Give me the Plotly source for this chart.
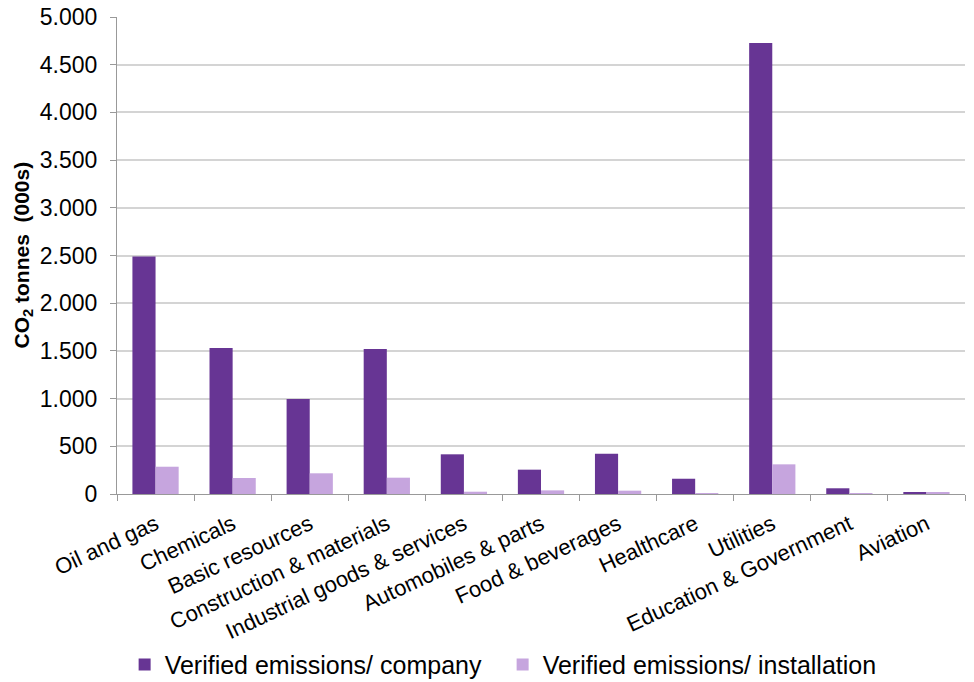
import plotly.graph_objects as go

categories = ["Oil and gas", "Chemicals", "Basic resources", "Construction & materials",
              "Industrial goods & services", "Automobiles & parts", "Food & beverages",
              "Healthcare", "Utilities", "Education & Government", "Aviation"]
company = [2490, 1530, 995, 1520, 416, 255, 422, 160, 4727, 60, 15]
installation = [286, 168, 217, 171, 24, 38, 35, 10, 311, 3, 12]
y_ticks = [0, 500, 1000, 1500, 2000, 2500, 3000, 3500, 4000, 4500, 5000]
y_title = "<b>CO<sub>2</sub> tonnes  (000s)</b>"

fig = go.Figure()
fig.add_trace(go.Bar(x=categories, y=company, name="Verified emissions/ company",
                     marker=dict(color="#673594", line=dict(width=0))))
fig.add_trace(go.Bar(x=categories, y=installation, name="Verified emissions/ installation",
                     marker=dict(color="#C6A5DE", line=dict(width=0))))

fig.add_annotation(text=y_title, xref="paper", yref="paper", x=-0.112, y=0.5,
                   xanchor="center", yanchor="middle", textangle=-90, showarrow=False,
                   font=dict(size=21, color="black"))

fig.update_layout(
    width=974, height=682,
    margin=dict(l=117, r=9, t=17, b=188, autoexpand=False),
    plot_bgcolor="white", paper_bgcolor="white",
    separators=",.",
    barmode="group", bargap=0.4, bargroupgap=0,
    font=dict(family="Liberation Sans, Arial, sans-serif", size=21, color="black"),
    legend=dict(orientation="h", x=0.009, xanchor="left", y=-0.358, yanchor="middle",
                font=dict(size=25), itemwidth=30, traceorder="normal",
                entrywidth=333, entrywidthmode="pixels"),
    xaxis=dict(showline=True, linecolor="#999999", linewidth=1, automargin=False,
               ticks="outside", ticklen=6, tickcolor="#999999", tickson="boundaries",
               tickangle=-25, tickfont=dict(size=22), ticklabelstandoff=8),
    yaxis=dict(range=[0, 5000], tickvals=y_ticks, tickformat=",d", automargin=False,
               showline=True, linecolor="#999999", linewidth=1,
               ticks="outside", ticklen=6, tickcolor="#999999",
               showgrid=True, gridcolor="#D4D4D4", gridwidth=1.5,
               ticklabelstandoff=8, tickfont=dict(size=23)),
)

fig.write_html("out.html", config={"displayModeBar": False},
               post_script="document.body.style.margin='0px';")
